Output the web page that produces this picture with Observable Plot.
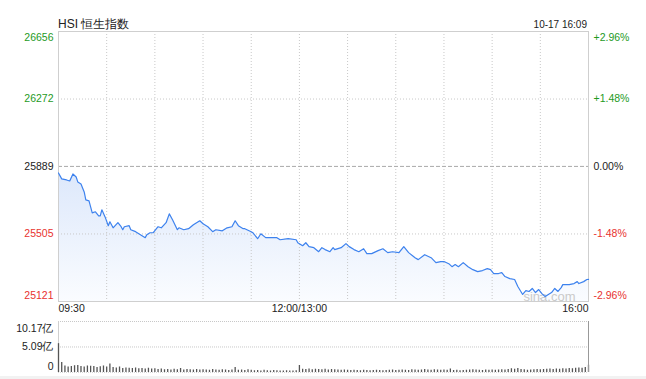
<!DOCTYPE html>
<html><head><meta charset="utf-8">
<script src="https://cdn.jsdelivr.net/npm/d3@7"></script>
<script src="https://cdn.jsdelivr.net/npm/@observablehq/plot@0.6"></script>
<style>
html,body{margin:0;padding:0;background:#fff;}
#wrap{position:relative;width:646px;height:379px;overflow:hidden;font-family:"Liberation Sans",Arial,Helvetica,sans-serif;}
#title{position:absolute;left:58px;top:18px;font-size:12px;line-height:12px;color:#222;white-space:nowrap;}
#date{position:absolute;right:59px;top:19.5px;font-size:10px;line-height:10px;color:#222;white-space:nowrap;}
#main{position:absolute;left:0;top:0;}
#vol{position:absolute;left:0;top:315px;}
#band{position:absolute;left:0;top:376px;width:646px;height:3px;background:#f2f2f2;}
svg{overflow:visible;}
</style></head><body>
<div id="wrap">
  <div id="title"></div>
  <div id="date"></div>
  <div id="main"></div>
  <div id="vol"></div>
  <div id="band"></div>
</div>
<script>
const indexName = "HSI 恒生指数";
const stamp = "10-17 16:09";
const watermark = "sina.com";
const prevClose = 25889;
const priceTicks = [26656, 26272, 25889, 25505, 25121];
const pctTicks = ["+2.96%", "+1.48%", "0.00%", "-1.48%", "-2.96%"];
const timeTickLabels = ["09:30", "12:00/13:00", "16:00"];
const gridTimes = ["10:00","10:30","11:00","11:30","12:00","13:30","14:00","14:30","15:00","15:30"];

const times = ["09:30","09:32","09:35","09:37","09:39","09:41","09:42","09:44","09:46","09:47",
"09:49","09:50","09:51","09:53","09:55","09:56","09:57","09:59","10:01","10:02",
"10:04","10:07","10:09","10:10","10:11","10:14","10:15","10:18","10:20","10:22",
"10:24","10:25","10:27","10:29","10:32","10:34","10:37","10:39","10:41","10:44",
"10:45","10:48","10:51","10:54","10:58","11:00","11:03","11:06","11:08","11:12",
"11:15","11:18","11:20","11:22","11:25","11:26","11:30","11:31","11:34","11:36",
"11:39","11:43","11:46","11:48","11:53","11:58","11:59","13:02","13:04","13:06",
"13:09","13:12","13:14","13:16","13:19","13:21","13:22","13:26","13:29","13:31",
"13:34","13:37","13:40","13:42","13:45","13:49","13:52","13:55","13:58","14:02",
"14:05","14:08","14:12","14:14","14:18","14:22","14:25","14:28","14:30","14:33",
"14:35","14:37","14:39","14:42","14:45","14:48","14:51","14:54","14:57","14:59",
"15:01","15:04","15:06","15:08","15:11","15:14","15:16","15:19","15:21","15:23",
"15:25","15:27","15:29","15:31","15:33","15:35","15:37","15:39","15:41","15:43",
"15:44","15:48","15:51","15:53","15:54","15:57","15:59","16:00"];
const prices = [25852,25818,25812,25806,25846,25829,25801,25789,25744,25699,
25693,25659,25625,25631,25608,25608,25642,25602,25552,25574,
25540,25569,25546,25529,25546,25552,25529,25518,25506,25495,
25484,25501,25512,25512,25546,25540,25569,25619,25586,25529,
25540,25529,25535,25557,25580,25563,25546,25518,25529,25523,
25540,25546,25580,25552,25535,25535,25518,25512,25478,25506,
25484,25484,25484,25472,25478,25472,25455,25438,25455,25433,
25427,25404,25427,25416,25404,25427,25416,25427,25450,25433,
25416,25404,25421,25393,25393,25410,25421,25399,25404,25399,
25433,25399,25370,25359,25387,25370,25342,25348,25348,25336,
25319,25331,25319,25342,25319,25302,25291,25297,25308,25302,
25280,25280,25285,25263,25251,25246,25206,25161,25183,25178,
25195,25172,25189,25166,25149,25161,25172,25195,25178,25200,
25217,25217,25223,25234,25223,25234,25246,25247];

const volTicks = [10.17, 5.09, 0];
const volTickLabels = ["10.17亿", "5.09亿", "0"];
const volStart = "09:30";
const volStepMinutes = 2;
// 成交额（亿），每两分钟一根
const volumes = [5.75,2.0,1.3,1.1,1.2,1.35,1.4,1.2,1.1,1.3,1.25,1.2,1.0,1.15,1.3,1.1,
1.7,1.0,0.9,1.1,0.8,0.9,0.85,0.8,0.9,0.75,0.8,0.7,0.85,0.7,0.75,
0.6,0.7,0.55,0.6,0.5,0.65,0.55,0.8,0.5,0.6,0.55,0.5,0.6,0.5,0.55,
0.5,0.45,0.6,0.5,0.45,0.55,0.5,0.4,0.5,1.0,0.45,0.5,0.4,0.55,0.45,
0.35,0.4,0.3,0.45,0.35,0.3,0.4,0.35,0.3,0.3,0.35,0.3,0.3,0.35,
1.4,
0.65,0.6,0.7,0.55,0.65,0.6,0.55,0.65,0.5,0.6,0.55,0.5,0.45,0.5,0.45,
0.4,0.45,0.4,0.35,0.45,0.4,0.35,0.4,0.45,0.4,0.35,0.4,0.45,0.5,0.4,
0.45,0.5,0.45,0.4,0.55,0.5,0.45,0.5,0.6,0.5,0.45,0.55,0.5,0.45,0.5,
0.45,0.7,0.4,0.45,0.35,0.4,0.45,0.5,0.55,0.5,0.45,0.4,0.5,0.45,0.5,
0.45,0.5,0.55,0.5,0.6,0.75,0.65,0.8,0.6,0.55,0.45,0.5,0.55,0.6,0.55,
0.6,0.65,0.7,0.6,0.7,0.65,0.75,0.7,0.8,0.75,0.85,0.9,0.85,1.0,1.45];

// trading-axis minutes: 09:30 -> 0, 12:00 = 13:00 -> 150, 16:00 -> 330
function toMin(s) {
  const [h, m] = s.split("/")[0].split(":").map(Number);
  let t = h * 60 + m - 570;
  if (t >= 210) t -= 60;
  return t;
}
const tickColor = v => v > prevClose ? "#1e9a1e" : v < prevClose ? "#e8322f" : "#222";

document.getElementById("title").textContent = indexName;
document.getElementById("date").textContent = stamp;

const data = times.map((t, i) => ({t: toMin(t), v: prices[i]}));
const vol = volumes.map((v, i) => ({t: toMin(volStart) + i * volStepMinutes, v}));
const fontFamily = '"Liberation Sans", Arial, Helvetica, sans-serif';

function gradientDefs() {
  const ns = "http://www.w3.org/2000/svg";
  const defs = document.createElementNS(ns, "defs");
  defs.innerHTML = '<linearGradient id="hsiFill" x1="0" y1="0" x2="0" y2="1">' +
    '<stop offset="0" stop-color="#dde8fb"/><stop offset="1" stop-color="#fafcff"/></linearGradient>';
  return defs;
}

const inner = priceTicks.slice(1, -1);
const main = Plot.plot({
  width: 646, height: 320,
  marginLeft: 58, marginRight: 58, marginTop: 31, marginBottom: 19,
  x: {domain: [0, 330], axis: null},
  y: {domain: [priceTicks[priceTicks.length - 1], priceTicks[0]], axis: null},
  style: {fontFamily, fontSize: "10.5px", background: "transparent", overflow: "visible"},
  marks: [
    gradientDefs,
    Plot.areaY(data, {x: "t", y1: priceTicks[priceTicks.length - 1], y2: "v", fill: "url(#hsiFill)", curve: "linear"}),
    Plot.ruleX(gridTimes.map(toMin), {stroke: "#c8c8c8", strokeDasharray: "1,2"}),
    Plot.ruleY(inner.filter(v => v !== prevClose), {stroke: "#c8c8c8", strokeDasharray: "1,2"}),
    Plot.ruleY([prevClose], {stroke: "#aaa", strokeDasharray: "4,2"}),
    Plot.frame({stroke: "#cfcfcf"}),
    Plot.text([watermark], {frameAnchor: "bottom-right", dx: -13, dy: -1, fill: "#cacaca", fontSize: 13}),
    Plot.line(data, {x: "t", y: "v", stroke: "#3d82ee", strokeWidth: 1.2}),
    // left price labels
    Plot.text([priceTicks[0]], {y: d => d, frameAnchor: "left", textAnchor: "end", dx: -5, dy: 6, fill: tickColor, text: d => String(d)}),
    Plot.text(inner, {y: d => d, frameAnchor: "left", textAnchor: "end", dx: -5, fill: tickColor, text: d => String(d)}),
    Plot.text([priceTicks[priceTicks.length - 1]], {y: d => d, frameAnchor: "left", textAnchor: "end", dx: -5, dy: -6, fill: tickColor, text: d => String(d)}),
    // right percent labels
    Plot.text([0], {y: i => priceTicks[i], frameAnchor: "right", textAnchor: "start", dx: 5, dy: 6, fill: i => tickColor(priceTicks[i]), text: i => pctTicks[i]}),
    Plot.text([1, 2, 3], {y: i => priceTicks[i], frameAnchor: "right", textAnchor: "start", dx: 5, fill: i => tickColor(priceTicks[i]), text: i => pctTicks[i]}),
    Plot.text([4], {y: i => priceTicks[i], frameAnchor: "right", textAnchor: "start", dx: 5, dy: -6, fill: i => tickColor(priceTicks[i]), text: i => pctTicks[i]}),
    // time labels
    Plot.text([timeTickLabels[0]], {x: toMin, frameAnchor: "bottom", dy: 10, textAnchor: "start", fill: "#222"}),
    Plot.text(timeTickLabels.slice(1, -1), {x: toMin, frameAnchor: "bottom", dy: 10, textAnchor: "middle", fill: "#222"}),
    Plot.text([timeTickLabels[timeTickLabels.length - 1]], {x: toMin, frameAnchor: "bottom", dy: 10, textAnchor: "end", fill: "#222"})
  ]
});
document.getElementById("main").appendChild(main);

const volPlot = Plot.plot({
  width: 646, height: 64,
  marginLeft: 58, marginRight: 58, marginTop: 6, marginBottom: 7,
  x: {domain: [0, 330], axis: null},
  y: {domain: [0, volTicks[0]], axis: null},
  style: {fontFamily, fontSize: "10.5px", background: "transparent", overflow: "visible"},
  marks: [
    Plot.ruleY(volTicks.slice(0, 2), {stroke: "#c8c8c8", strokeDasharray: "1,1"}),
    Plot.ruleY([0], {stroke: "#d8d8d8", strokeDasharray: "1,1"}),
    Plot.ruleX([0], {stroke: "#cfcfcf"}),
    Plot.ruleX(vol, {x: "t", y1: 0, y2: "v", stroke: "#555", strokeWidth: 1.3}),
    Plot.ruleX([330], {stroke: "#999"}),
    Plot.text([0], {y: i => volTicks[i], frameAnchor: "left", textAnchor: "end", dx: -5, dy: 7, fill: "#222", text: i => volTickLabels[i]}),
    Plot.text([1], {y: i => volTicks[i], frameAnchor: "left", textAnchor: "end", dx: -5, fill: "#222", text: i => volTickLabels[i]}),
    Plot.text([2], {y: i => volTicks[i], frameAnchor: "left", textAnchor: "end", dx: -5, dy: -6, fill: "#222", text: i => volTickLabels[i]})
  ]
});
document.getElementById("vol").appendChild(volPlot);
</script>
</body></html>
